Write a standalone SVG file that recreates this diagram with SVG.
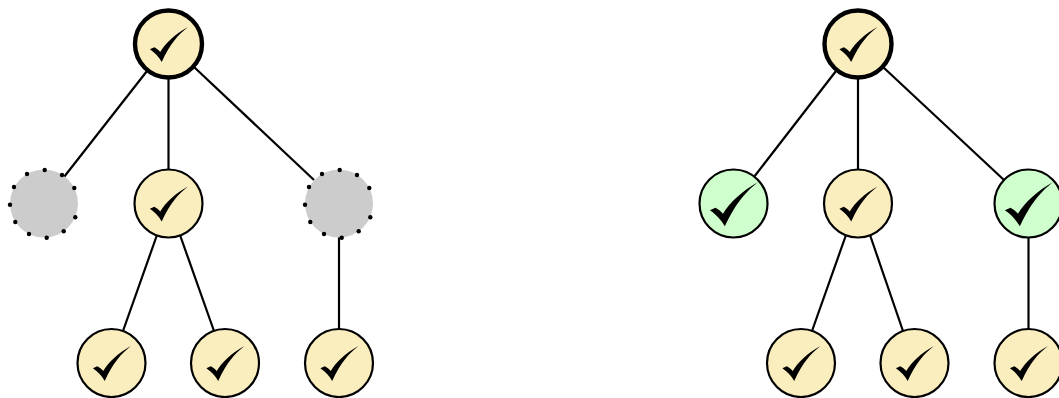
<svg xmlns="http://www.w3.org/2000/svg" width="1059" height="398" viewBox="0 0 1059 398">
<style>
.e{stroke:#000;stroke-width:2.2;fill:none}
.y{fill:#faedbe;stroke:#000;stroke-width:2.2}
.r{fill:#faedbe;stroke:#000;stroke-width:4.4}
.g{fill:#cfffcc;stroke:#000;stroke-width:2.2}
.u{fill:#cccccc}
.d{fill:#000}
</style>
<defs>
<path id="c" d="M19.4-17C10-9.5 2-1-6.8 18C-9.5 13.5-13 9-18.6 5.3L-14.2 3.3C-12 4.5-10 6-8.3 8C-3-1 7-10 19.4-17Z"/>
<g id="dots">
<circle class="d" cx="31.3" cy="13.8" r="2.2"/><circle class="d" cx="19.7" cy="27.8" r="2.2"/><circle class="d" cx="2.7" cy="34.2" r="2.2"/><circle class="d" cx="-15" cy="30.5" r="2.2"/><circle class="d" cx="-28.7" cy="18.5" r="2.2"/><circle class="d" cx="-34" cy="1.2" r="2.2"/><circle class="d" cx="-30" cy="-16.5" r="2.2"/><circle class="d" cx="-17" cy="-29.5" r="2.2"/><circle class="d" cx="0.7" cy="-33.5" r="2.2"/><circle class="d" cx="18" cy="-28.5" r="2.2"/><circle class="d" cx="30.3" cy="-15.5" r="2.2"/>
</g>
</defs>
<g id="connectors">
<line class="e" x1="147" y1="71" x2="64" y2="177"/>
<line class="e" x1="168.5" y1="78" x2="168.5" y2="170"/>
<line class="e" x1="194" y1="67" x2="314" y2="180"/>
<line class="e" x1="157" y1="235" x2="123" y2="331"/>
<line class="e" x1="180" y1="235" x2="214" y2="331"/>
<line class="e" x1="339" y1="237" x2="339" y2="329"/>
<line class="e" x1="836" y1="71" x2="754" y2="177"/>
<line class="e" x1="858" y1="78" x2="858" y2="170"/>
<line class="e" x1="883" y1="67" x2="1004" y2="180"/>
<line class="e" x1="846" y1="235" x2="812" y2="331"/>
<line class="e" x1="870" y1="235" x2="903" y2="331"/>
<line class="e" x1="1028.5" y1="237" x2="1028.5" y2="329"/>
</g>
<g id="left-root"><circle class="r" cx="168.5" cy="44" r="33.5"/><use href="#c" transform="translate(168.5 44)"/></g>
<g id="left-a"><circle class="u" cx="44" cy="203.5" r="34"/><use href="#dots" transform="translate(44 203.5)"/></g>
<g id="left-b"><circle class="y" cx="168.5" cy="203.5" r="34"/><use href="#c" transform="translate(168.5 203.5)"/></g>
<g id="left-c"><circle class="u" cx="339" cy="203.5" r="34"/><use href="#dots" transform="translate(339 203.5)"/></g>
<g id="left-d"><circle class="y" cx="111.5" cy="363" r="34"/><use href="#c" transform="translate(111.5 363)"/></g>
<g id="left-e"><circle class="y" cx="225" cy="363" r="34"/><use href="#c" transform="translate(225 363)"/></g>
<g id="left-f"><circle class="y" cx="339" cy="363" r="34"/><use href="#c" transform="translate(339 363)"/></g>
<g id="right-root"><circle class="r" cx="858" cy="44" r="33.5"/><use href="#c" transform="translate(858 44)"/></g>
<g id="right-a"><circle class="g" cx="733.5" cy="203.5" r="34"/><use href="#c" transform="translate(733.5 203.5) scale(1.27)"/></g>
<g id="right-b"><circle class="y" cx="858" cy="203.5" r="34"/><use href="#c" transform="translate(858 203.5)"/></g>
<g id="right-c"><circle class="g" cx="1028.5" cy="203.5" r="34"/><use href="#c" transform="translate(1028.5 203.5) scale(1.27)"/></g>
<g id="right-d"><circle class="y" cx="801" cy="363" r="34"/><use href="#c" transform="translate(801 363)"/></g>
<g id="right-e"><circle class="y" cx="914.5" cy="363" r="34"/><use href="#c" transform="translate(914.5 363)"/></g>
<g id="right-f"><circle class="y" cx="1028.5" cy="363" r="34"/><use href="#c" transform="translate(1028.5 363)"/></g>
</svg>
